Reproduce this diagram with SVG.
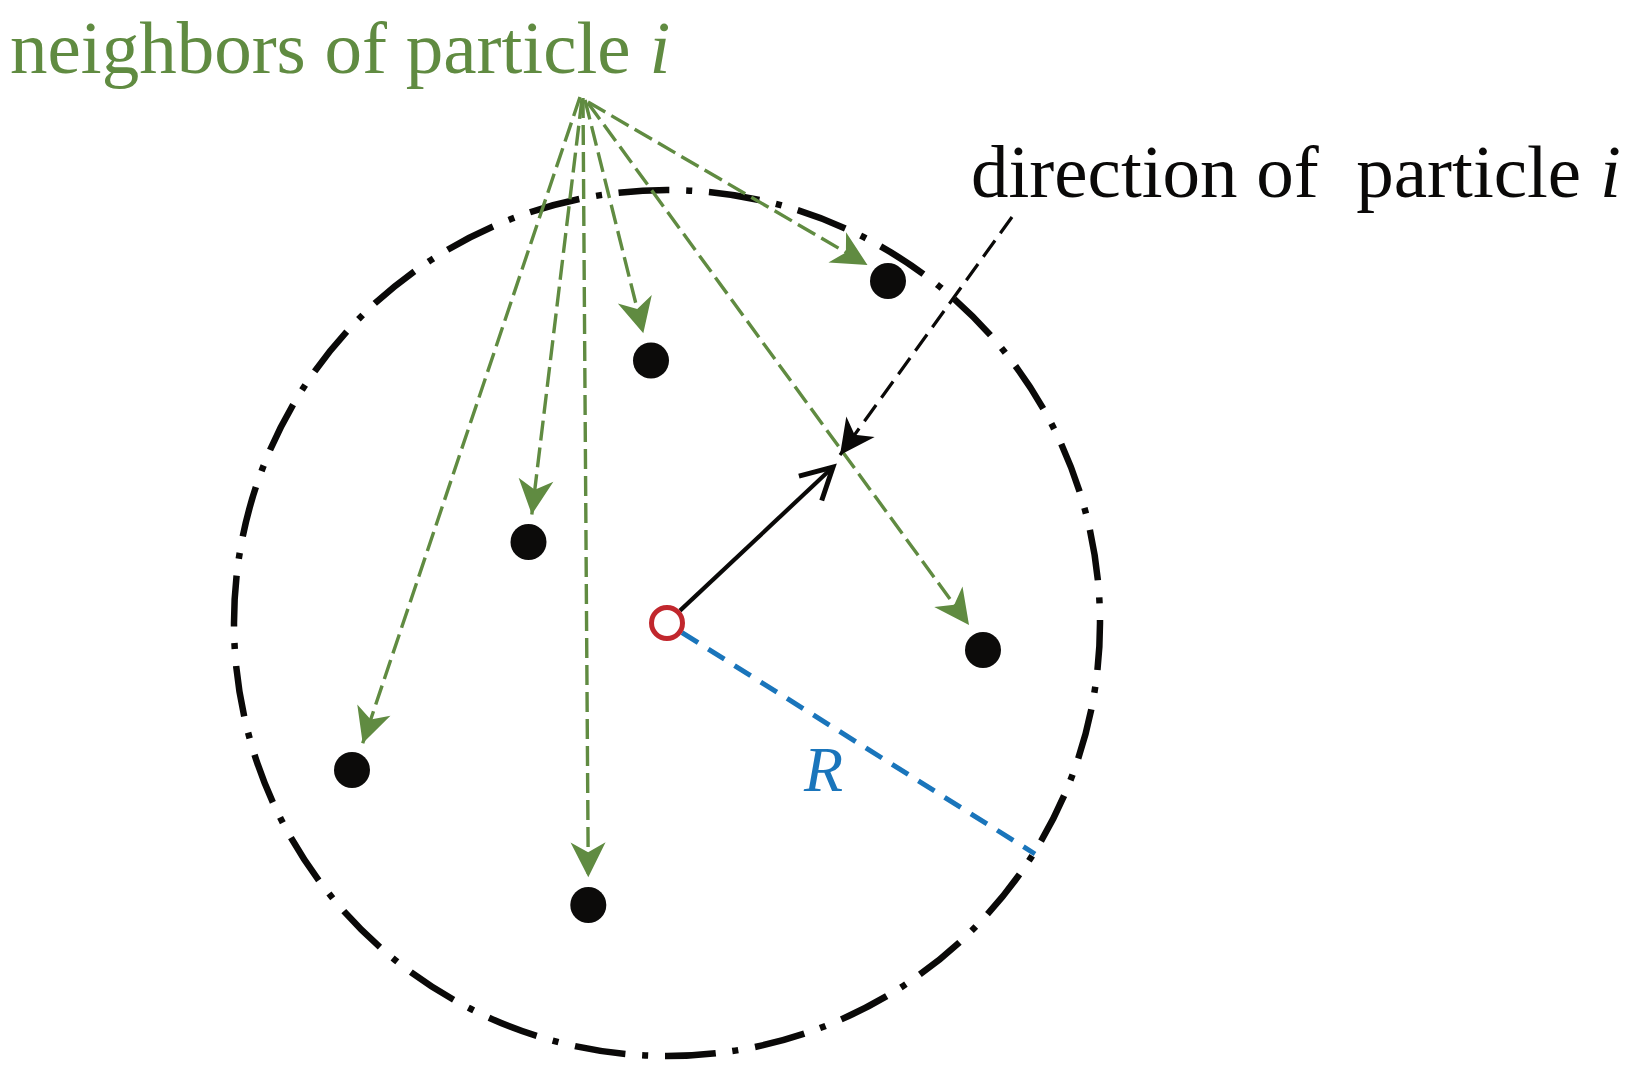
<svg xmlns="http://www.w3.org/2000/svg" width="1635" height="1085" viewBox="0 0 1635 1085">
  <style>
    .lbl { font-family: "Liberation Serif", "Times New Roman", serif; font-size: 75px; }
    .green { fill: #608B41; }
    .gline { stroke: #608B41; stroke-width: 3.4; stroke-dasharray: 20 7; fill: none; }
    .dot { fill: #0c0b0a; }
  </style>
  <defs>
    <marker id="ag" markerUnits="userSpaceOnUse" orient="auto" markerWidth="40" markerHeight="40" refX="0" refY="0" viewBox="-30 -16 32 32" overflow="visible">
      <path d="M0,0 L-28,-14 L-20,0 L-28,14 Z" fill="#608B41"/>
    </marker>
    <marker id="ak" markerUnits="userSpaceOnUse" orient="auto" markerWidth="40" markerHeight="40" refX="0" refY="0" viewBox="-30 -16 32 32" overflow="visible">
      <path d="M0,0 L-28,-14 L-20,0 L-28,14 Z" fill="#0a0908"/>
    </marker>
    <marker id="av" markerUnits="userSpaceOnUse" orient="auto" markerWidth="40" markerHeight="40" refX="0" refY="0" viewBox="-32 -18 34 36" overflow="visible">
      <path d="M-28,-15 L0,0 L-28,15" fill="none" stroke="#0a0908" stroke-width="4.5" stroke-linejoin="miter"/>
    </marker>
  </defs>
  <rect width="1635" height="1085" fill="#ffffff"/>

  <g id="neighborhood">
    <circle cx="667" cy="623" r="433" fill="none" stroke="#0a0908" stroke-width="6.5" stroke-dasharray="51 17 6 16.687" stroke-dashoffset="3.8"/>
  </g>

  <g id="connectors">
    <line class="gline" x1="588" y1="102" x2="867.5" y2="265" marker-end="url(#ag)"/>
    <line class="gline" x1="585" y1="100" x2="643.3" y2="333.3" marker-end="url(#ag)"/>
    <line class="gline" x1="588" y1="103" x2="969" y2="625" marker-end="url(#ag)"/>
    <line class="gline" x1="582" y1="99" x2="531.8" y2="514.5" marker-end="url(#ag)"/>
    <line class="gline" x1="583" y1="98" x2="588.3" y2="877.3" marker-end="url(#ag)"/>
    <line class="gline" x1="580" y1="97" x2="362.7" y2="743.3" marker-end="url(#ag)"/>
    <line x1="1012" y1="217" x2="840" y2="455" stroke="#0a0908" stroke-width="3.2" stroke-dasharray="20 9" marker-end="url(#ak)"/>
    <line x1="680" y1="610.6" x2="833" y2="467" stroke="#0a0908" stroke-width="4.2" marker-end="url(#av)"/>
    <line id="radius" x1="682" y1="632.6" x2="1035" y2="854" stroke="#1A75BB" stroke-width="5" stroke-dasharray="19 12"/>
  </g>

  <g id="particle-i">
    <circle cx="667" cy="623" r="15.5" fill="#ffffff" stroke="#C1272D" stroke-width="5"/>
  </g>
  <g id="neighbor-1"><circle class="dot" cx="888" cy="281" r="18"/></g>
  <g id="neighbor-2"><circle class="dot" cx="651" cy="360.5" r="18"/></g>
  <g id="neighbor-3"><circle class="dot" cx="528.5" cy="542" r="18"/></g>
  <g id="neighbor-4"><circle class="dot" cx="983" cy="650" r="18"/></g>
  <g id="neighbor-5"><circle class="dot" cx="352" cy="770" r="18"/></g>
  <g id="neighbor-6"><circle class="dot" cx="588.3" cy="905" r="18"/></g>

  <g id="label-neighbors">
    <text class="lbl green" x="10" y="73">neighbors of particle <tspan font-style="italic">i</tspan></text>
  </g>
  <g id="label-direction">
    <text class="lbl" x="971" y="197" fill="#0a0908" xml:space="preserve">direction of  particle <tspan font-style="italic">i</tspan></text>
  </g>
  <g id="label-R">
    <text x="804" y="791" font-family="'Liberation Serif', 'Times New Roman', serif" font-size="64" font-style="italic" fill="#1A75BB">R</text>
  </g>
</svg>
